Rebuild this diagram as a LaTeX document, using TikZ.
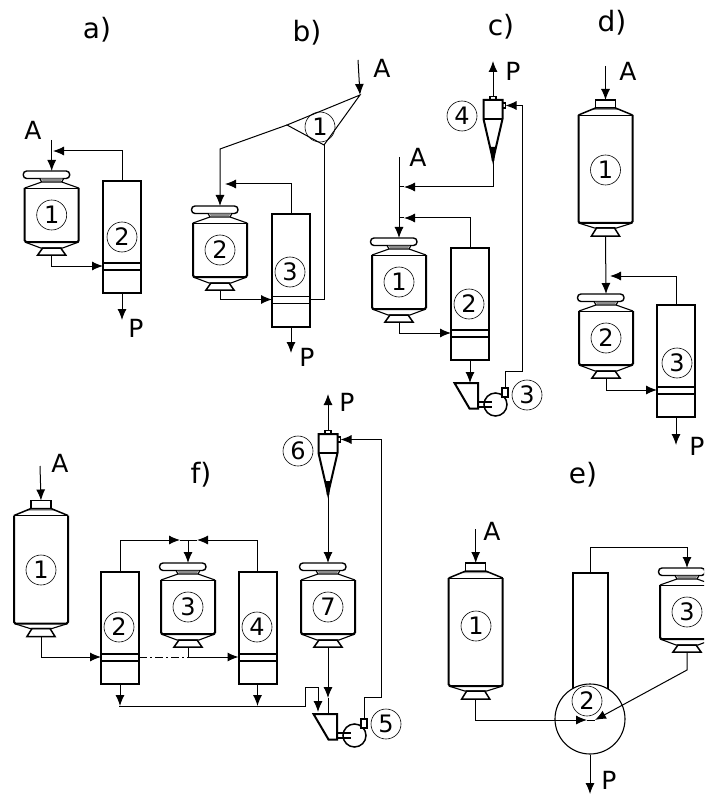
\documentclass[tikz,border=0pt]{standalone}
\usepackage{fontspec}
\setmainfont{DejaVu Sans}
\usetikzlibrary{arrows.meta}

\begin{document}
\begin{tikzpicture}[
  x=1pt, y=-1pt,
  line/.style={line width=1pt, draw=black},
  arr/.style={line, -{Latex[length=11pt, width=9pt]}},
  wall/.style={line width=2pt, draw=black},
  rim/.style={line width=1.1pt, draw=black},
  num/.style={draw, circle, line width=0.6pt, minimum size=30pt, inner sep=0pt, font=\fontsize{24}{24}\selectfont},
  lbl/.style={font=\fontsize{25}{25}\selectfont, inner sep=0pt},
  title/.style={font=\fontsize{28}{28}\selectfont, inner sep=0pt},
  pics/drum/.style={code={
    \draw[rim, line width=1.4pt, rounded corners=3.5pt] (-28.5,-44) rectangle (18,-36.5);
    \fill[black!45] (-11,-36.5) -- (-9,-34) -- (9,-34) -- (11,-36.5) -- cycle;
    \draw[rim] (-27,-27) -- (-10,-33) -- (-12,-36.5) (12,-36.5) -- (10,-33) -- (27,-27) (-10,-33) -- (10,-33);
    \draw[wall, rounded corners=1.5pt] (-27,-27) -- (-27,27) -- (27,27) -- (27,-27);
    \draw[line width=0.6pt] (-27,-27) -- (27,-27);
    \draw[rim] (-27,27) -- (-11,33) (27,27) -- (11,33) (-11,33) -- (11,33);
    \draw[rim, line width=1.5pt] (-9,33) -- (9,33) -- (14,40) -- (-14,40) -- cycle;
    \coordinate (-in) at (0,-44);
    \coordinate (-out) at (0,40);
  }},
  pics/tall/.style={code={
    \draw[rim, line width=1.5pt] (-10,-60) -- (-10,-68) -- (10,-68) -- (10,-60);
    \fill[black!45] (-10,-60) -- (10,-60) -- (14,-58) -- (-14,-58) -- cycle;
    \draw[rim, line width=1.5pt] (-27,-53) -- (-10,-60) -- (10,-60) -- (27,-53);
    \draw[wall, rounded corners=1.5pt] (-27,-53) -- (-27,55) -- (27,55) -- (27,-53);
    \draw[line width=0.6pt] (-27,-53) -- (27,-53);
    \draw[rim] (-27,55) -- (-11,60) (27,55) -- (11,60) (-11,60) -- (11,60);
    \draw[rim, line width=1.5pt] (-9,60) -- (9,60) -- (14,68) -- (-14,68) -- cycle;
    \coordinate (-in) at (0,-68);
    \coordinate (-out) at (0,68);
  }},
  pics/col/.style={code={
    \draw[wall] (-19,-56) rectangle (19,56);
    \draw[rim] (-19,26) -- (19,26) (-19,33) -- (19,33);
    \coordinate (-top) at (0,-56);
    \coordinate (-bot) at (0,56);
    \coordinate (-w) at (-19,29);
    \coordinate (-e) at (19,29);
  }},
  pics/cyc/.style={code={
    \draw[rim] (-3,0) -- (-3,-3.5) -- (3,-3.5) -- (3,0);
    \draw[rim] (9.5,3) rectangle (12.5,8);
    \draw[wall] (-9.5,0) -- (9.5,0) -- (9.5,19) -- (0,60) -- (-9.5,19) -- cycle;
    \draw[rim] (-9.5,19) -- (9.5,19);
    \fill (-2.5,47) -- (2.5,47) -- (1.2,61) -- (-1.2,61) -- cycle;
    \coordinate (-top) at (0,-3.5);
    \coordinate (-tip) at (0,60);
    \coordinate (-side) at (12.5,5.5);
  }},
  pics/feeder/.style={code={
    \draw[wall] (-23.5,0) -- (0,0) -- (0,25.5) -- (-8.5,25.5) -- cycle;
    \draw[rim, line width=1.5pt, fill=white] (17.5,21.5) circle (11.5);
    \draw[rim] (0,19) -- (14,19) (0,24) -- (14,24);
    \draw[rim, fill=white] (24,5) rectangle (30,14);
    \coordinate (-top) at (0,0);
    \coordinate (-out) at (27,5);
  }}]
  \path[use as bounding box, clip] (0,0) rectangle (704,794);

  \node[title] (ta) at (97,30) {a)};
  \pic (a1) at (51.7,215) {drum};
  \pic (a2) at (122,237) {col};
  \node[num] (a1n) at (51.7,215) {1};
  \node[num] (a2n) at (122,237) {2};
  \node[lbl] (aA) at (33,130) {A};
  \node[lbl] (aP) at (136,328) {P};
  \coordinate (a-in) at (51.7,140);
  \coordinate (a-j) at (53,151);
  \coordinate (a-p) at (122,320);
  \draw[arr] (a-in) -- (a1-in);
  \draw[arr] (a2-top) |- (a-j);
  \draw[arr] (a1-out) |- (a2-w);
  \draw[arr] (a2-bot) -- (a-p);

  \node[title] (tb) at (307,33) {b)};
  \pic (b2) at (220,250) {drum};
  \pic (b3) at (291,270.5) {col};
  \node[num] (b1n) at (320,127) {1};
  \node[num] (b2n) at (220,250) {2};
  \node[num] (b3n) at (290,272) {3};
  \node[lbl] (bA) at (382,68) {A};
  \node[lbl] (bP) at (307,357) {P};
  \coordinate (b-in) at (358,60);
  \coordinate (b-r) at (360,95);
  \coordinate (b-l) at (287,125);
  \coordinate (b-b) at (324,145);
  \coordinate (b-k) at (220,149);
  \coordinate (b-j) at (225,184);
  \coordinate (b-p) at (291,353);
  \draw[line] (b-l) -- (b-r) -- (b-b) -- cycle;
  \draw[arr] (b-in) -- (b-r);
  \draw[arr] (b-l) -- (b-k) -- (b2-in);
  \draw[arr] (b3-top) |- (b-j);
  \draw[arr] (b2-out) |- (b3-w);
  \draw[line] (b3-e) -| (b-b);
  \draw[arr] (b3-bot) -- (b-p);

  \node[title] (tc) at (501,27) {c)};
  \pic (c1) at (399,282) {drum};
  \pic (c2) at (470,304) {col};
  \pic (c3) at (478,383) {feeder};
  \pic (c4) at (493,100) {cyc};
  \node[num] (c1n) at (399,282) {1};
  \node[num] (c2n) at (469,304) {2};
  \node[num] (c3n) at (527,395) {3};
  \node[num] (c4n) at (462,116) {4};
  \node[lbl] (cA) at (418,157) {A};
  \node[lbl] (cP) at (513,71) {P};
  \coordinate (c-in) at (399,157);
  \coordinate (c-j1) at (404,187);
  \coordinate (c-j2) at (404,218);
  \coordinate (c-p) at (493,61);
  \coordinate (c-r) at (522,371);
  \draw[arr] (c-in) -- (c1-in);
  \draw[arr] (c4-tip) |- (c-j1);
  \draw[arr] (c2-top) |- (c-j2);
  \draw[line] (c-j1) -- (c-in |- c-j1) (c-j2) -- (c-in |- c-j2);
  \draw[arr] (c1-out) |- (c2-w);
  \draw[arr] (c2-bot) -- (c2-bot |- c3-top);
  \draw[arr] (c4-top) -- (c-p);
  \draw[arr] (c3-out) |- (c-r) |- (c4-side);

  \node[title] (td) at (612,23) {d)};
  \pic (d1) at (605.5,168) {tall};
  \pic (d2) at (606,338) {drum};
  \pic (d3) at (676,361) {col};
  \node[num] (d1n) at (605.5,170) {1};
  \node[num] (d2n) at (606,338) {2};
  \node[num] (d3n) at (677,363) {3};
  \node[lbl] (dA) at (628,71) {A};
  \node[lbl] (dP) at (697,446) {P};
  \coordinate (d-in) at (605.5,66);
  \coordinate (d-j) at (610,276);
  \coordinate (d-p) at (676,445);
  \draw[arr] (d-in) -- (d1-in);
  \draw[arr] (d1-out) -- (d2-in);
  \draw[arr] (d3-top) |- (d-j);
  \draw[arr] (d2-out) |- (d3-w);
  \draw[arr] (d3-bot) -- (d-p);

  \node[title] (te) at (583,475) {e)};
  \pic (e1) at (475.7,631) {tall};
  \pic (e3) at (687,612) {drum};
  \node[draw, wall, minimum width=35pt, minimum height=118pt, inner sep=0pt] (e2) at (590.5,632) {};
  \node[draw, circle, rim, fill=white, minimum size=70pt, inner sep=0pt] (e2c) at (590,719) {};
  \node[num] (e1n) at (476,626) {1};
  \node[num] (e2n) at (587,701) {2};
  \node[num] (e3n) at (687,612) {3};
  \node[lbl] (eA) at (492,531) {A};
  \node[lbl] (eP) at (609,780) {P};
  \coordinate (e-in) at (475.7,529);
  \coordinate (e-k) at (687,670);
  \coordinate (e-j1) at (595,720);
  \coordinate (e-j2) at (587,720);
  \coordinate (e-r) at (687,547);
  \coordinate (e-p) at (590,794);
  \draw[arr] (e-in) -- (e1-in);
  \draw[arr] (e1-out) |- (e-j2);
  \draw[line] (e-j2) -- (e-j1);
  \draw[arr] (e3-out) -- (e-k) -- (e-j1);
  \draw[arr] (e2.north) |- (e-r) -- (e3-in);
  \draw[arr] (e2c.south) -- (e-p);

  \node[title] (tf) at (201,475) {f)};
  \pic (f1) at (41,568.5) {tall};
  \pic (f2) at (120,628) {col};
  \pic (f3) at (188,607) {drum};
  \pic (f4) at (257.5,628) {col};
  \pic (f5) at (337,714) {feeder};
  \pic (f6) at (328,434) {cyc};
  \pic (f7) at (328,607) {drum};
  \node[num] (f1n) at (41,570) {1};
  \node[num] (f2n) at (119,627) {2};
  \node[num] (f3n) at (188,607) {3};
  \node[num] (f4n) at (257,627) {4};
  \node[num] (f5n) at (386,724) {5};
  \node[num] (f6n) at (298,451) {6};
  \node[num] (f7n) at (328,607) {7};
  \node[lbl] (fA) at (60,463) {A};
  \node[lbl] (fP) at (347,402) {P};
  \coordinate (f-in) at (40,466);
  \coordinate (f-t) at (188,540);
  \coordinate (f-j1) at (180,540);
  \coordinate (f-j2) at (197,540);
  \coordinate (f-m) at (188,657);
  \coordinate (f-l) at (119,706);
  \coordinate (f-u) at (305,706);
  \coordinate (f-v) at (318,687);
  \coordinate (f-w) at (318,712);
  \coordinate (f-a) at (328,698);
  \coordinate (f-b) at (328,714);
  \coordinate (f-p) at (328,394);
  \coordinate (f-r) at (381,697);
  \draw[arr] (f-in) -- (f1-in);
  \draw[arr] (f1-out) |- (f2-w);
  \draw[arr] (f2-top) |- (f-j1);
  \draw[arr] (f4-top) |- (f-j2);
  \draw[line] (f-j1) -- (f-j2);
  \draw[arr] (f-t) -- (f3-in);
  \draw[arr] (f3-out) |- (f4-w);
  \draw[line, dash pattern=on 8pt off 3pt on 2pt off 3pt] (f2-e) -- (f-m);
  \draw[arr] (f2-bot) -- (f2-bot |- f-l);
  \draw[arr] (f4-bot) -- (f4-bot |- f-l);
  \draw[line] (f-l) -- (f-u) |- (f-v);
  \draw[arr] (f-v) -- (f-w);
  \draw[arr] (f7-out) -- (f-a);
  \draw[line] (f-a) -- (f-b);
  \draw[arr] (f6-tip) -- (f7-in);
  \draw[arr] (f6-top) -- (f-p);
  \draw[arr] (f5-out) |- (f-r) |- (f6-side);
\end{tikzpicture}
\end{document}
